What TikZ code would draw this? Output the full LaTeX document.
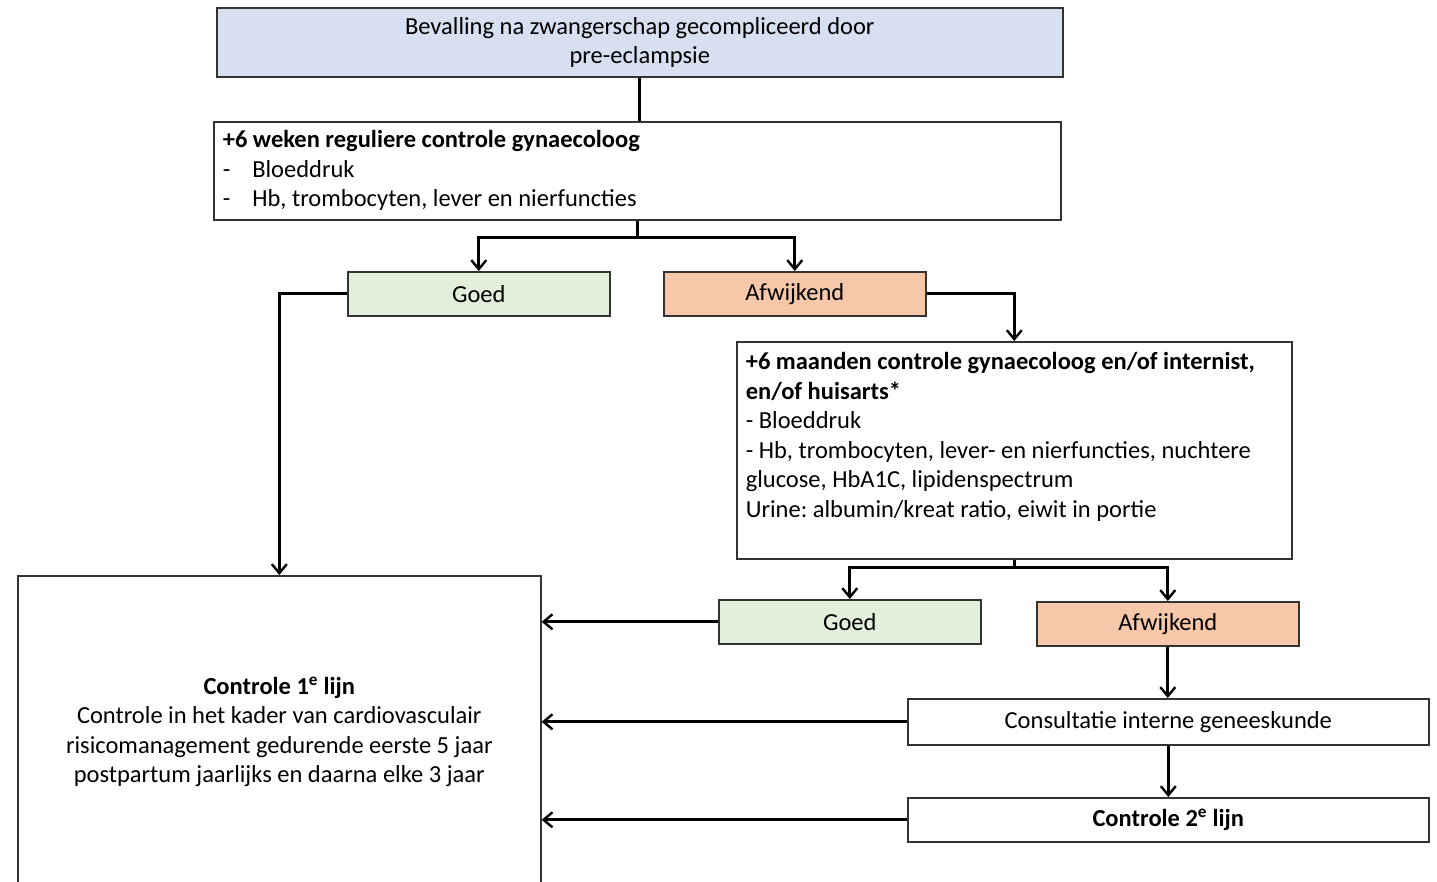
\documentclass[tikz,border=0pt]{standalone}
\usepackage{fontspec}
\setmainfont{Carlito}
\usepackage{tikz}
\usepackage{xcolor}
\usetikzlibrary{arrows.meta,positioning,calc}
\definecolor{boxline}{HTML}{333333}
\definecolor{startblue}{HTML}{D7E0F0}
\definecolor{goodgreen}{HTML}{E2EFDA}
\definecolor{badorange}{HTML}{F6C7A9}
\newcommand{\flowfont}{\fontsize{24.5}{29.5}\selectfont\frenchspacing}
\tikzset{
  flowbox/.style={
    draw=boxline,
    line width=1.6pt,
    fill=white,
    anchor=north west,
    inner sep=3pt,
    font=\flowfont
  },
  startbox/.style={flowbox, fill=startblue, align=center},
  goodbox/.style={flowbox, fill=goodgreen, align=center, minimum width=262pt, minimum height=44pt},
  badbox/.style={flowbox, fill=badorange, align=center, minimum width=262pt, minimum height=44pt},
  listbox/.style={flowbox, align=flush left, inner xsep=9pt},
  flowarrow/.style={-{Straight Barb[length=9pt,width=15pt,line width=2.4pt]}, line width=2.8pt, draw=black},
  flowline/.style={line width=2.8pt, draw=black}
}

\begin{document}
\begin{tikzpicture}[x=1pt,y=-1pt]
\useasboundingbox (0,0) rectangle (1437,881);
\node[startbox, minimum width=846pt, minimum height=69pt] (start) at (216,7)
  {Bevalling na zwangerschap gecompliceerd door\\pre-eclampsie};
\node[listbox, minimum width=847pt, minimum height=98pt, text width=829pt] (week6) at (213,121)
  {\textbf{+6 weken reguliere controle gynaecoloog}\\
   -\hspace{22pt}Bloeddruk\\
   -\hspace{22pt}Hb, trombocyten, lever en nierfuncties};
\node[goodbox] (goed1) at (347,271) {Goed};
\node[badbox] (afw1) at (663,271) {Afwijkend};
\node[listbox, minimum width=555pt, text width=537pt, text height=25pt, text depth=186pt] (month6) at (736,341)
  {\textbf{+6 maanden controle gynaecoloog en/of internist,}\\
   \textbf{en/of huisarts*}\\
   - Bloeddruk\\
   - Hb, trombocyten, lever- en nierfuncties, nuchtere\\
   glucose, HbA1C, lipidenspectrum\\
   Urine: albumin/kreat ratio, eiwit in portie};
\node[goodbox] (goed2) at (718,599) {Goed};
\node[badbox] (afw2) at (1036,601) {Afwijkend};
\node[flowbox, minimum width=521pt, minimum height=46pt] (intern) at (907,698)
  {Consultatie interne geneeskunde};
\node[flowbox, minimum width=521pt, minimum height=44pt] (line2) at (907,797)
  {\textbf{Controle 2\textsuperscript{e} lijn}};
\node[flowbox, align=center, minimum width=523pt, minimum height=312pt] (line1) at (17,575)
  {\textbf{Controle 1\textsuperscript{e} lijn}\\
   Controle in het kader van cardiovasculair\\
   risicomanagement gedurende eerste 5 jaar\\
   postpartum jaarlijks en daarna elke 3 jaar};

% connectors
\coordinate (split1) at ($(week6.south)+(0,17)$);
\coordinate (split2) at ($(month6.south)+(0,8)$);
\draw[flowline] (start.south) -- (start.south |- week6.north);
\draw[flowline] (week6.south) -- (split1);
\draw[flowarrow] (split1) -| (goed1.north);
\draw[flowarrow] (split1) -| (afw1.north);
\draw[flowarrow] (goed1.west) -| (line1.north);
\draw[flowarrow] (afw1.east) -| (month6.north);
\draw[flowline] (month6.south) -- (split2);
\draw[flowarrow] (split2) -| (goed2.north);
\draw[flowarrow] (split2) -| (afw2.north);
\draw[flowarrow] (goed2.west) -- (goed2.west -| line1.east);
\draw[flowarrow] (afw2.south) -- (afw2.south |- intern.north);
\draw[flowarrow] (intern.west) -- (intern.west -| line1.east);
\draw[flowarrow] (intern.south) -- (line2.north);
\draw[flowarrow] (line2.west) -- (line2.west -| line1.east);
\end{tikzpicture}
\end{document}
